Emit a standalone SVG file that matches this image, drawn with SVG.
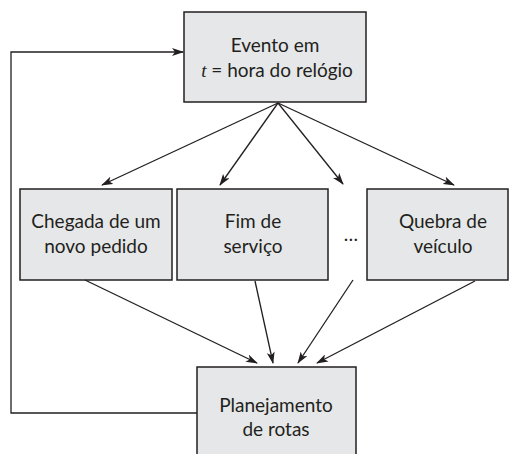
<svg xmlns="http://www.w3.org/2000/svg" width="510" height="454" viewBox="0 0 510 454">
<defs>
<marker id="ah" markerWidth="12" markerHeight="8" refX="11" refY="4" orient="auto" markerUnits="userSpaceOnUse">
<path d="M0,0 L12,4 L0,8 L3,4 Z" fill="#231f20"/>
</marker>
<style>
.box{fill:#e6e7e8;stroke:#231f20;stroke-width:1.5}
.t{font-family:Lato,"Open Sans","Liberation Sans",sans-serif;font-size:19px;fill:#231f20;text-anchor:middle}
.c{fill:none;stroke:#231f20;stroke-width:1.3;marker-end:url(#ah)}
</style>
</defs>
<rect width="510" height="454" fill="#fff"/>
<g id="evento">
<rect class="box" x="184" y="12" width="182" height="90"/>
<text class="t" x="275" y="52">Evento em</text>
<text class="t" x="277" y="77"><tspan font-family="Liberation Serif,serif" font-style="italic">t</tspan> = hora do relógio</text>
</g>
<g id="chegada">
<rect class="box" x="20" y="189" width="152" height="91"/>
<text class="t" x="96" y="228">Chegada de um</text>
<text class="t" x="96" y="253">novo pedido</text>
</g>
<g id="fim">
<rect class="box" x="177" y="189" width="151" height="91"/>
<text class="t" x="253" y="228">Fim de</text>
<text class="t" x="253" y="253">serviço</text>
</g>
<g id="reticencias">
<text class="t" x="351" y="241">…</text>
</g>
<g id="quebra">
<rect class="box" x="367" y="189" width="141" height="91"/>
<text class="t" x="443" y="228">Quebra de</text>
<text class="t" x="443" y="253">veículo</text>
</g>
<g id="planejamento">
<rect class="box" x="197" y="367" width="159" height="95"/>
<text class="t" x="276" y="412">Planejamento</text>
<text class="t" x="276" y="436">de rotas</text>
</g>
<g id="connectors">
<path class="c" d="M278,103 L102,185"/>
<path class="c" d="M278,103 L220,185"/>
<path class="c" d="M278,103 L343,184"/>
<path class="c" d="M278,103 L454,185"/>
<path class="c" d="M85,280 L257,363"/>
<path class="c" d="M255,281 L273,363"/>
<path class="c" d="M353,280 L298,363"/>
<path class="c" d="M475,281 L317,363"/>
<path class="c" d="M197,413 L11,413 L11,52 L183,52"/>
</g>
</svg>
